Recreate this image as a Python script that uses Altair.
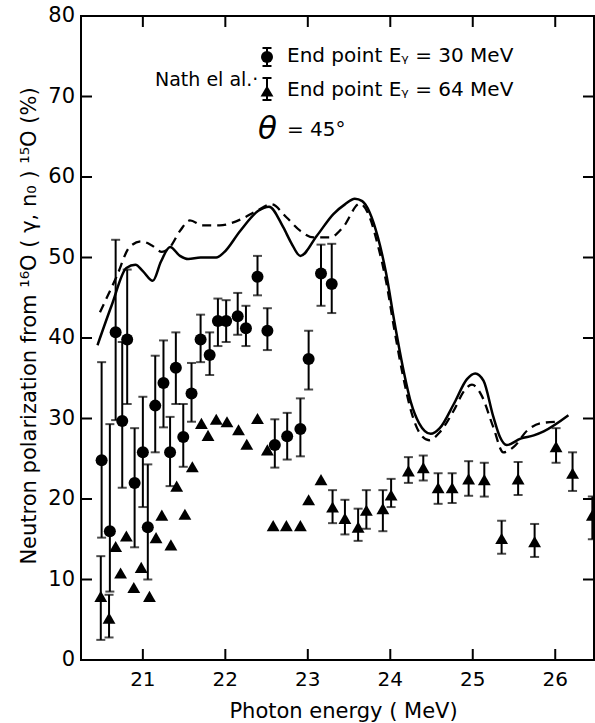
import altair as alt
import pandas as pd

# ---------------- data ----------------
# End point 30 MeV (circles) : energy, polarization, error-bar low / high
circ_E = [20.50, 20.60, 20.67, 20.75, 20.81, 20.90, 21.00, 21.06, 21.15, 21.25,
          21.33, 21.40, 21.49, 21.59, 21.70, 21.81, 21.91, 22.01, 22.15, 22.25,
          22.39, 22.51, 22.60, 22.75, 22.91, 23.01, 23.16, 23.29]
circ_P = [24.8, 16.0, 40.7, 29.7, 39.8, 22.0, 25.8, 16.5, 31.6, 34.4,
          25.8, 36.3, 27.7, 33.1, 39.8, 37.9, 42.1, 42.1, 42.7, 41.2,
          47.6, 40.9, 26.7, 27.8, 28.7, 37.4, 48.0, 46.7]
circ_lo = [15.2, 8.5, 29.8, 21.4, 31.8, 14.0, 19.0, 10.0, 25.8, 28.9,
           21.6, 31.8, 24.0, 29.6, 37.0, 35.4, 39.0, 39.5, 40.4, 39.0,
           45.3, 38.5, 23.9, 24.9, 25.3, 33.6, 44.0, 43.1]
circ_hi = [37.0, 29.3, 52.2, 39.5, 48.5, 28.8, 32.7, 24.3, 37.8, 39.7,
           30.2, 40.7, 31.8, 36.9, 42.9, 40.7, 44.9, 44.7, 45.6, 44.0,
           50.2, 43.7, 29.9, 30.7, 32.5, 40.9, 51.6, 51.7]

# End point 64 MeV (triangles)
tri_E = [20.49, 20.59, 20.67, 20.73, 20.80, 20.89, 20.98, 21.08, 21.16, 21.23,
         21.34, 21.41, 21.51, 21.60, 21.71, 21.79, 21.89, 22.02, 22.16, 22.26,
         22.39, 22.51, 22.58, 22.74, 22.91, 23.01, 23.16, 23.30, 23.45, 23.61,
         23.71, 23.91, 24.01, 24.22, 24.40, 24.58, 24.75, 24.95, 25.14, 25.35,
         25.55, 25.75, 26.01, 26.21, 26.45]
tri_P = [7.9, 5.2, 14.1, 10.8, 15.4, 9.0, 11.5, 7.9, 15.2, 18.0,
         14.3, 21.6, 18.1, 24.0, 29.4, 27.9, 29.9, 29.6, 28.6, 26.8,
         30.0, 26.1, 16.7, 16.7, 16.7, 19.9, 22.4, 19.0, 17.6, 16.5,
         18.6, 18.8, 20.5, 23.5, 23.9, 21.4, 21.4, 22.5, 22.4, 15.1,
         22.5, 14.7, 26.5, 23.2, 18.0]
# triangles that carry error bars
triErr_E = [20.49, 20.59, 23.30, 23.45, 23.61, 23.71, 23.91, 24.01, 24.22, 24.40,
            24.58, 24.75, 24.95, 25.14, 25.35, 25.55, 25.75, 26.01, 26.21, 26.45]
triErr_lo = [2.5, 2.8, 17.0, 15.6, 14.8, 16.3, 16.0, 19.0, 22.0, 22.3,
             19.4, 19.5, 20.4, 20.3, 13.2, 20.5, 12.8, 24.5, 21.0, 15.0]
triErr_hi = [12.9, 8.1, 21.1, 19.9, 18.8, 21.1, 21.1, 22.5, 25.2, 25.4,
             23.2, 23.2, 24.7, 24.5, 17.3, 24.6, 16.9, 28.8, 25.8, 20.3]

# theory curves
solid_E = [20.45, 20.62, 20.80, 20.91, 21.00, 21.12, 21.22, 21.33, 21.45, 21.55,
           21.70, 21.89, 21.98, 22.18, 22.40, 22.53, 22.70, 22.80, 22.91, 23.11,
           23.31, 23.45, 23.57, 23.66, 23.75, 23.85, 23.95, 24.05, 24.15, 24.25,
           24.35, 24.49, 24.60, 24.77, 24.93, 25.03, 25.13, 25.25, 25.33, 25.41,
           25.58, 25.74, 25.86, 26.16]
solid_P = [39.1, 44.0, 48.7, 49.1, 48.3, 47.1, 49.5, 51.3, 50.2, 49.8,
           50.0, 50.0, 50.6, 53.3, 55.8, 56.3, 53.8, 51.8, 50.2, 52.7,
           55.4, 56.6, 57.3, 57.0, 55.6, 52.5, 48.0, 42.0, 36.5, 32.0,
           29.4, 28.1, 28.8, 31.8, 34.9, 35.6, 34.7, 30.2, 27.7, 26.7,
           27.5, 27.9, 28.4, 30.4]
dash_E = [20.48, 20.68, 20.84, 20.98, 21.11, 21.23, 21.33, 21.45, 21.57, 21.73,
          21.93, 22.18, 22.38, 22.56, 22.74, 22.91, 23.07, 23.27, 23.43, 23.63,
          23.75, 23.85, 23.95, 24.05, 24.15, 24.25, 24.35, 24.47, 24.60, 24.77,
          24.90, 24.99, 25.10, 25.25, 25.37, 25.50, 25.66, 25.82, 26.02]
dash_P = [43.2, 47.6, 51.3, 52.0, 51.5, 50.7, 51.3, 53.3, 54.6, 54.0,
          54.0, 54.7, 55.8, 56.6, 55.0, 53.3, 52.5, 52.5, 53.8, 56.7,
          55.0, 51.5, 47.0, 41.0, 35.5, 31.0, 28.3, 27.3, 28.3, 31.0,
          33.5, 34.2, 33.0, 28.9, 25.8, 26.5, 28.5, 29.4, 29.6]

x_ticks = [21, 22, 23, 24, 25, 26]
y_ticks = [0, 10, 20, 30, 40, 50, 60, 70, 80]
y_inner_ticks = [10, 20, 30, 40, 50, 60, 70]

x_title = "Photon energy ( MeV)"
y_title = "Neutron polarization from ¹⁶O ( γ, n₀ ) ¹⁵O (%)"
legend_30 = "End point Eᵧ = 30 MeV"
legend_64 = "End point Eᵧ = 64 MeV"
legend_ref = "Nath el al.·"
angle_sym = "θ"
angle_txt = "= 45°"

# ---------------- frames ----------------
circ = pd.DataFrame({"E": circ_E, "P": circ_P, "lo": circ_lo, "hi": circ_hi})
tri = pd.DataFrame({"E": tri_E, "P": tri_P})
triErr = pd.DataFrame({"E": triErr_E, "lo": triErr_lo, "hi": triErr_hi})
caps = pd.concat([
    pd.DataFrame({"E": circ_E, "v": circ_lo}), pd.DataFrame({"E": circ_E, "v": circ_hi}),
    pd.DataFrame({"E": triErr_E, "v": triErr_lo}), pd.DataFrame({"E": triErr_E, "v": triErr_hi}),
])
solid = pd.DataFrame({"E": solid_E, "P": solid_P})
dash = pd.DataFrame({"E": dash_E, "P": dash_P})
xt = pd.DataFrame({"E": x_ticks})
ytl = pd.DataFrame({"P": y_ticks})
yt = pd.DataFrame({"P": y_inner_ticks})

FONT = "DejaVu Sans"
W, H = 513, 644
TL = 11  # inward tick length
xs = alt.Scale(domain=[20.25, 26.47], nice=False, zero=False)
ys = alt.Scale(domain=[0, 80], nice=False, zero=False)


def X(f):
    return alt.X(f, scale=xs, axis=None)


def Y(f):
    return alt.Y(f, scale=ys, axis=None)


solid_layer = alt.Chart(solid).mark_line(color="black", strokeWidth=2.5, interpolate="monotone").encode(
    x=X("E:Q"), y=Y("P:Q"))
dash_layer = alt.Chart(dash).mark_line(color="black", strokeWidth=2.3, strokeDash=[9, 6],
                                       interpolate="monotone").encode(x=X("E:Q"), y=Y("P:Q"))
circ_rules = alt.Chart(circ).mark_rule(color="black", strokeWidth=2).encode(
    x=X("E:Q"), y=Y("lo:Q"), y2="hi:Q")
tri_rules = alt.Chart(triErr).mark_rule(color="black", strokeWidth=2).encode(
    x=X("E:Q"), y=Y("lo:Q"), y2="hi:Q")
cap_layer = alt.Chart(caps).mark_tick(color="black", orient="horizontal", size=9, thickness=2).encode(
    x=X("E:Q"), y=Y("v:Q"))
circ_pts = alt.Chart(circ).mark_point(shape="circle", filled=True, color="black", size=144, opacity=1).encode(
    x=X("E:Q"), y=Y("P:Q"))
tri_pts = alt.Chart(tri).mark_point(shape="triangle-up", filled=True, color="black", size=165, opacity=1).encode(
    x=X("E:Q"), y=Y("P:Q"))

# inward ticks on all four sides (positions through the scales)
tick_bottom = alt.Chart(xt).mark_rule(color="black", strokeWidth=2).encode(
    x=X("E:Q"), y=alt.value(H), y2=alt.value(H - TL))
tick_top = alt.Chart(xt).mark_rule(color="black", strokeWidth=2).encode(
    x=X("E:Q"), y=alt.value(0), y2=alt.value(TL))
tick_left = alt.Chart(yt).mark_rule(color="black", strokeWidth=2).encode(
    y=Y("P:Q"), x=alt.value(0), x2=alt.value(TL))
tick_right = alt.Chart(yt).mark_rule(color="black", strokeWidth=2).encode(
    y=Y("P:Q"), x=alt.value(W - TL), x2=alt.value(W))

# tick labels (drawn as text through the scales)
x_labels = alt.Chart(xt).mark_text(font=FONT, fontSize=20, color="black", baseline="top", align="center").encode(
    x=X("E:Q"), y=alt.value(H + 10), text=alt.Text("E:Q", format="d"))
y_labels = alt.Chart(ytl).mark_text(font=FONT, fontSize=21, color="black", baseline="middle", align="right").encode(
    y=Y("P:Q"), x=alt.value(-6), text=alt.Text("P:Q", format="d"))

# ---------------- titles, legend, annotations (pixel placed) ----------------
one = pd.DataFrame({"k": [0]})


def txt(s, x, y, size=20, style="normal", align="left", baseline="middle", angle=0):
    return alt.Chart(one).mark_text(font=FONT, fontSize=size, fontStyle=style, color="black",
                                    align=align, baseline=baseline, angle=angle).encode(
        x=alt.value(x), y=alt.value(y), text=alt.value(s))


def vrule(x, y1, y2):
    return alt.Chart(one).mark_rule(color="black", strokeWidth=2).encode(
        x=alt.value(x), y=alt.value(y1), y2=alt.value(y2))


def hcap(x, y):
    return alt.Chart(one).mark_rule(color="black", strokeWidth=2).encode(
        x=alt.value(x - 4.5), x2=alt.value(x + 4.5), y=alt.value(y))


def sym(shape, x, y, size):
    return alt.Chart(one).mark_point(shape=shape, filled=True, color="black", size=size, opacity=1).encode(
        x=alt.value(x), y=alt.value(y))


titles = [
    txt(x_title, W / 2 + 6, H + 58, size=21, align="center", baseline="alphabetic"),
    txt(y_title, -51, 310, size=21, align="center", baseline="middle", angle=270),
]

legend = [
    vrule(186, 32, 50), hcap(186, 32), hcap(186, 50), sym("circle", 186, 41, 144),
    vrule(186, 62, 84), hcap(186, 62), hcap(186, 84), sym("triangle-up", 186, 75, 165),
    txt(legend_30, 206, 40), txt(legend_64, 206, 74), txt(legend_ref, 74, 64, size=19),
    txt(angle_sym, 177, 114, size=31, style="italic"), txt(angle_txt, 206, 114),
]

chart = alt.layer(
    solid_layer, dash_layer, circ_rules, tri_rules, cap_layer, circ_pts, tri_pts,
    tick_bottom, tick_top, tick_left, tick_right, x_labels, y_labels, *titles, *legend
).properties(
    width=W, height=H,
    padding={"left": 81, "top": 16, "right": 1, "bottom": 63},
    autosize=alt.AutoSizeParams(type="none"),
    background="white",
).configure_view(stroke="black", strokeWidth=2)

chart.save("out.html", embed_options={"renderer": "svg", "actions": False})
